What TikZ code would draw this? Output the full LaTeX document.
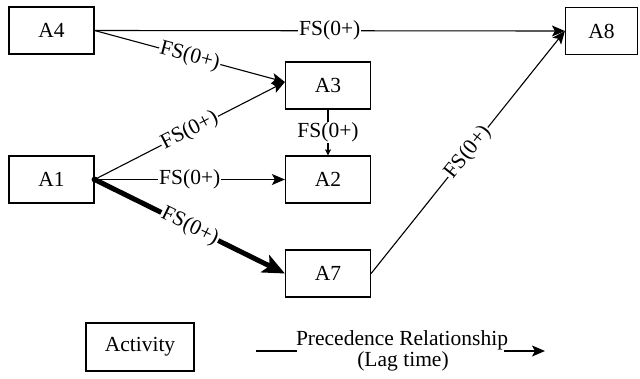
\documentclass[tikz,border=0pt]{standalone}
\usepackage{fontspec}
\setmainfont{Liberation Serif}
\usetikzlibrary{arrows.meta}
\begin{document}
\begin{tikzpicture}[x=1pt,y=-1pt,
  txt/.style={font=\fontsize{21.5}{24}\selectfont},
  act/.style={txt, draw, line width=1.2pt, minimum width=85pt, minimum height=47pt, inner sep=0pt},
  rel/.style={line width=1.1pt, -{Stealth[length=13pt,width=11pt,inset=3pt]}},
  relsmall/.style={line width=1.1pt, -{Stealth[length=6pt,width=6pt,inset=1pt]}},
  crit/.style={line width=5pt, -{Stealth[length=22pt,width=19pt,inset=5pt]}},
  lag/.style={txt, fill=white, inner sep=1pt},
]
\useasboundingbox (0,0) rectangle (640,378);

% activities
\node[act] (A4) at (51.5,30.5) {A4};
\node[act, minimum width=72pt] (A8) at (601.5,31) {A8};
\node[act] (A3) at (328,85.5) {A3};
\node[act] (A1) at (51.5,179.5) {A1};
\node[act] (A2) at (328,179.5) {A2};
\node[act] (A7) at (328,273.5) {A7};

% shared entry points
\coordinate (A3in) at ([yshift=3.5pt]A3.west);

% precedence relationships
\draw[rel] (A4.east) -- node[lag] {FS(0+)} (A8.west);
\draw[rel] (A4.east) -- node[lag, sloped] {FS(0+)} (A3in);
\draw[rel] (A1.east) -- node[lag, sloped] {FS(0+)} (A3in);
\draw[rel] (A1.east) -- node[lag] {FS(0+)} (A2.west);
\draw[relsmall] (A3.south) -- node[lag] {FS(0+)} (A2.north);
\draw[crit] (A1.east) -- node[lag, sloped] {FS(0+)} (A7.west);
\draw[rel] (A7.east) -- node[lag, sloped] {FS(0+)} (A8.west);
\fill (A1.east) circle (3pt);

% legend
\node[act, minimum width=108pt, minimum height=48pt] (legact) at (140,347) {Activity};
\node[txt, inner sep=0pt] (prec) at (402,340) {Precedence Relationship};
\node[txt, inner sep=0pt] (lagt) at (403,361) {(Lag time)};
\coordinate (l0) at (256,351);
\coordinate (l1) at (297,351);
\coordinate (l2) at (504,351);
\coordinate (l3) at (545,351);
\draw[line width=1.4pt] (l0) -- (l1);
\draw[rel, line width=1.4pt] (l2) -- (l3);
\end{tikzpicture}
\end{document}
